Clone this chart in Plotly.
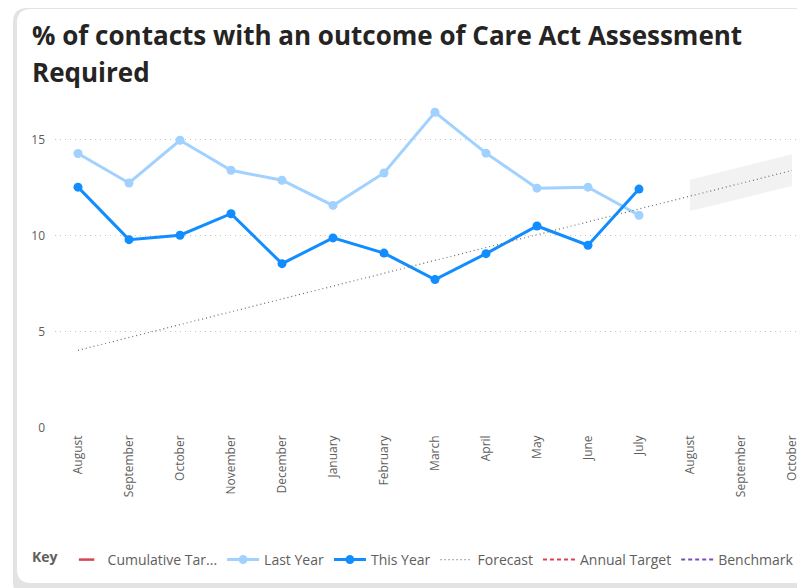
import plotly.graph_objects as go

months = ["August", "September", "October", "November", "December", "January",
          "February", "March", "April", "May", "June", "July",
          "August", "September", "October"]
last_year = [14.28, 12.75, 14.97, 13.41, 12.89, 11.58, 13.27, 16.43, 14.30, 12.48, 12.53, 11.07]
this_year = [12.53, 9.80, 10.03, 11.15, 8.55, 9.89, 9.10, 7.72, 9.07, 10.51, 9.51, 12.43]
forecast = [4.04, 4.71, 5.38, 6.05, 6.71, 7.38, 8.05, 8.72, 9.39, 10.06, 10.73, 11.39,
            12.06, 12.73, 13.40]
band_upper = [12.92, 13.58, 14.24]
band_lower = [11.29, 11.94, 12.59]
y_ticks = [0, 5, 10, 15]

# page has an 8px body margin; work in page pixels and convert
OFF = 8
W, H = 805 - OFF, 588 - OFF
L, T, B = 55 - OFF, 100 - OFF, 160
plot_w = W - L
plot_h = H - T - B

def px(x):  # page pixel x -> paper
    return (x - OFF - L) / plot_w

def py(y):  # page pixel y -> paper
    return (H - B - (y - OFF)) / plot_h

x_idx = list(range(len(months)))
fc_idx = x_idx[12:15]

fig = go.Figure()

fig.add_trace(go.Scatter(
    x=fc_idx + fc_idx[::-1], y=band_upper + band_lower[::-1],
    fill="toself", fillcolor="#F2F2F2", line=dict(width=0),
    mode="lines", showlegend=False, hoverinfo="skip"))

fig.add_trace(go.Scatter(x=[None], y=[None], mode="markers", name="Cumulative Tar...",
                         marker=dict(symbol="line-ew", size=11, color="#D64550",
                                     line=dict(color="#D64550", width=2.5))))
fig.add_trace(go.Scatter(x=x_idx[:12], y=last_year, mode="lines+markers", name="Last Year",
                         line=dict(color="#A0D1FF", width=3),
                         marker=dict(size=9, color="#A0D1FF")))
fig.add_trace(go.Scatter(x=x_idx[:12], y=this_year, mode="lines+markers", name="This Year",
                         line=dict(color="#118DFF", width=3),
                         marker=dict(size=9, color="#118DFF")))
fig.add_trace(go.Scatter(x=x_idx, y=forecast, mode="lines", name="Forecast",
                         line=dict(color="#6E6C6A", width=1.2, dash="1px,3px")))
fig.add_trace(go.Scatter(x=[None], y=[None], mode="lines", name="Annual Target",
                         line=dict(color="#D64550", width=2, dash="4px,3px")))
fig.add_trace(go.Scatter(x=[None], y=[None], mode="lines", name="Benchmark",
                         line=dict(color="#744EC2", width=2, dash="4px,3px")))

def rounded(x0, y0, x1, y1, r):
    pts = [
        f"M {px(x0 + r)},{py(y0)}",
        f"L {px(x1)},{py(y0)}",
        f"L {px(x1)},{py(y1)}",
        f"L {px(x0 + r)},{py(y1)}",
        f"Q {px(x0)},{py(y1)} {px(x0)},{py(y1 - r)}",
        f"L {px(x0)},{py(y0 + r)}",
        f"Q {px(x0)},{py(y0)} {px(x0 + r)},{py(y0)}",
        "Z",
    ]
    return " ".join(pts)

shapes = [
    dict(type="path", xref="paper", yref="paper", path=rounded(13, 8, 812, 596, 14),
         fillcolor="#E3E3E3", line=dict(width=0), layer="below"),
    dict(type="path", xref="paper", yref="paper", path=rounded(17, 9, 812, 583, 14),
         fillcolor="#FFFFFF", line=dict(width=0), layer="below"),
]

title_font = dict(family="Open Sans, Noto Sans, sans-serif", size=26, color="#252423")
annotations = [
    dict(text="<b>% of contacts with an outcome of Care Act Assessment</b>", xref="paper", yref="paper",
         x=px(30), y=py(35), xanchor="left", yanchor="middle", showarrow=False, font=title_font),
    dict(text="<b>Required</b>", xref="paper", yref="paper",
         x=px(30), y=py(72), xanchor="left", yanchor="middle", showarrow=False, font=title_font),
]

fig.update_layout(
    width=W, height=H,
    margin=dict(l=L, r=0, t=T, b=B, pad=0),
    paper_bgcolor="white", plot_bgcolor="rgba(0,0,0,0)",
    font=dict(family="Open Sans, Noto Sans, sans-serif", color="#605E5C"),
    shapes=shapes, annotations=annotations,
    showlegend=True,
    legend=dict(orientation="h", x=px(30), y=py(560), xanchor="left", yanchor="middle",
                title=dict(text="<b>Key</b>", font=dict(size=14, color="#605E5C"), side="left"),
                font=dict(size=14, color="#605E5C"), bgcolor="rgba(0,0,0,0)",
                itemwidth=32, tracegroupgap=0),
    xaxis=dict(range=[(55 - 78) / 51, (805 - 78) / 51], tickmode="array", tickvals=x_idx,
               ticktext=months, tickangle=-90, showgrid=False, zeroline=False, showline=False,
               tickfont=dict(size=12, color="#605E5C"), ticks="", ticklabelstandoff=4),
    yaxis=dict(range=[0, plot_h / 19.22], tickmode="array", tickvals=y_ticks,
               showgrid=True, gridcolor="#C8C6C4", griddash="1px,4px", gridwidth=1,
               zeroline=False, showline=False, ticks="",
               tickfont=dict(size=12, color="#605E5C"), ticklabelstandoff=9),
)

fig.write_html("out.html")
